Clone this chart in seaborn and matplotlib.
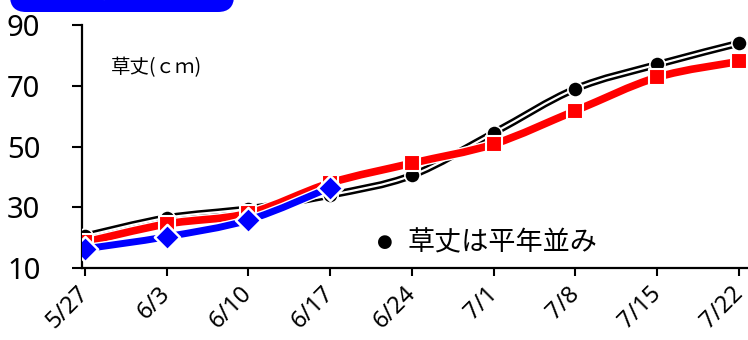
import numpy as np
import matplotlib
matplotlib.use("Agg")
import matplotlib.pyplot as plt
import seaborn as sns
from matplotlib.path import Path
from matplotlib.patches import PathPatch, FancyBboxPatch
from matplotlib.transforms import IdentityTransform, ScaledTranslation
import matplotlib.patheffects as pe

# Survey dates and plant height (cm)
dates = ["5/27", "6/3", "6/10", "6/17", "6/24", "7/1", "7/8", "7/15", "7/22"]
normal_year = [20.5, 26.5, 29.5, 34.0, 40.5, 54.5, 69.0, 77.0, 84.0]
this_year = [18.5, 24.5, 28.0, 38.0, 44.5, 50.8, 61.8, 72.8, 78.0]
last_year = [16.3, 20.3, 25.8, 36.5]
yticks = [10, 30, 50, 70, 90]

sns.set_theme(style="ticks")
plt.rcParams["font.family"] = ["Noto Sans", "Noto Sans CJK JP", "DejaVu Sans"]
plt.rcParams["text.color"] = "black"

W, H = 748, 340
fig = plt.figure(figsize=(W / 100, H / 100), dpi=100)
ax = fig.add_axes([82 / W, 72 / H, (W - 82) / W, 243 / H])


def smooth_path(xs, ys):
    """Cubic Bezier path through the points (Catmull-Rom style smoothing)."""
    pts = np.column_stack([xs, ys]).astype(float)
    n = len(pts)
    verts = [pts[0]]
    codes = [Path.MOVETO]
    for i in range(n - 1):
        p0 = pts[i - 1] if i > 0 else pts[i]
        p1, p2 = pts[i], pts[i + 1]
        p3 = pts[i + 2] if i + 2 < n else pts[i + 1]
        verts += [p1 + (p2 - p0) / 6, p2 - (p3 - p1) / 6, p2]
        codes += [Path.CURVE4] * 3
    return Path(verts, codes)


xpos = np.arange(len(dates))

# Normal year: black double line with round markers
p_norm = smooth_path(xpos, normal_year)
ax.add_patch(PathPatch(p_norm, facecolor="none", edgecolor="black", lw=5.2, zorder=2))
ax.add_patch(PathPatch(p_norm, facecolor="none", edgecolor="white", lw=1.6, zorder=2.1))
sns.scatterplot(x=xpos, y=normal_year, marker="o", s=120, color="black",
                edgecolor="white", linewidth=1.2, zorder=3, ax=ax, legend=False)

# This year: red line with square markers
p_this = smooth_path(xpos, this_year)
ax.add_patch(PathPatch(p_this, facecolor="none", edgecolor="#FF0000", lw=5.5, zorder=4,
                       path_effects=[pe.Stroke(linewidth=7.5, foreground="white"), pe.Normal()]))
sns.scatterplot(x=xpos, y=this_year, marker="s", s=125, color="#FF0000",
                edgecolor="white", linewidth=1.5, zorder=5, ax=ax, legend=False)

# Last year: blue line with diamond markers
xl = xpos[:len(last_year)]
p_last = smooth_path(xl, last_year)
ax.add_patch(PathPatch(p_last, facecolor="none", edgecolor="#0000FF", lw=5.0, zorder=6,
                       path_effects=[pe.Stroke(linewidth=7.0, foreground="white"), pe.Normal()]))
sns.scatterplot(x=xl, y=last_year, marker="D", s=165, color="#0000FF",
                edgecolor="white", linewidth=1.8, zorder=7, ax=ax, legend=False)

# Axes
ax.set_xlim(-3 / 81.75, 8 + 9 / 81.75)
ax.set_ylim(10, 90)
ax.set_yticks(yticks)
ax.set_yticklabels([str(v) for v in yticks], fontsize=21)
ax.set_xticks(xpos)
ax.set_xticklabels(dates, fontsize=17, rotation=45, ha="right", va="center",
                   rotation_mode="anchor")
shift = ScaledTranslation(-4 / 72, 0, fig.dpi_scale_trans)
for lab in ax.get_xticklabels():
    lab.set_transform(lab.get_transform() + shift)
ax.tick_params(axis="y", length=7, width=1.5, pad=23, colors="black")
ax.tick_params(axis="x", length=6, width=1.5, pad=10, colors="black")
for s in ["top", "right"]:
    ax.spines[s].set_visible(False)
for s in ["left", "bottom"]:
    ax.spines[s].set_linewidth(1.6)
    ax.spines[s].set_color("black")
ax.set_xlabel("")
ax.set_ylabel("")
ax.patch.set_alpha(0)

# Annotations
fig.text(111 / W, 1 - 68 / H, "草丈(ｃｍ)", fontsize=14, ha="left", va="center",
         family=["Noto Sans CJK JP"])
fig.text(385 / W, 1 - 242 / H, "●", fontsize=13, ha="center", va="center",
         family=["DejaVu Sans"])
fig.text(408 / W, 1 - 243 / H, "草丈は平年並み", fontsize=19.5, ha="left", va="center",
         family=["Noto Sans CJK JP"])

# Title banner at the top
banner = FancyBboxPatch((10, H - 12), 224, 50,
                        boxstyle="round,pad=0,rounding_size=16",
                        facecolor="#0000FF", edgecolor="none",
                        transform=IdentityTransform(), zorder=10)
fig.add_artist(banner)
fig.text(120 / W, 1 - 4 / H, "草丈の推移", fontsize=19, color="white", ha="center",
         va="bottom", family=["Noto Sans CJK JP"], zorder=11)
fig.text(340 / W, 1 - 3 / H, "平年値", fontsize=16, color="black", ha="center",
         va="bottom", family=["Noto Sans CJK JP"], zorder=11)

fig.savefig("out.png", dpi=100)
